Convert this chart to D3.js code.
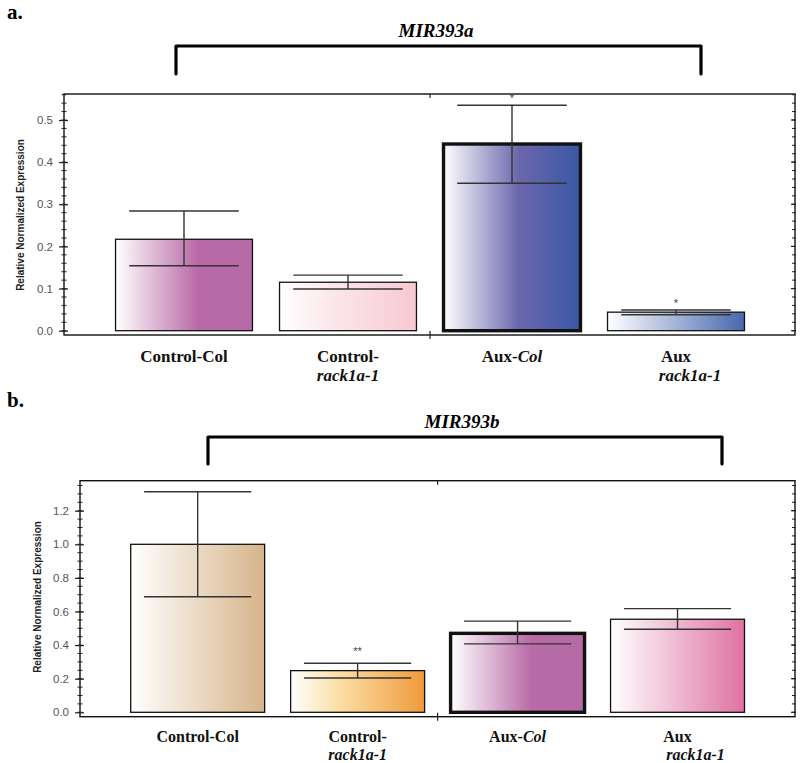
<!DOCTYPE html>
<html>
<head>
<meta charset="utf-8">
<script src="https://cdn.jsdelivr.net/npm/d3@7"></script>
<style>
  html, body { margin: 0; padding: 0; background: #fff; }
  svg { display: block; }
</style>
</head>
<body>
<svg id="chart" width="800" height="763"></svg>
<script>
// ---------------- data ----------------
const categories = ["Control-Col", "Control-rack1a-1", "Aux-Col", "Aux rack1a-1"];

const mir393aValues = [0.217, 0.115, 0.443, 0.044];
const mir393aUpper  = [0.284, 0.132, 0.535, 0.049];
const mir393aLower  = [0.154, 0.099, 0.350, 0.038];
const mir393aStars  = ["", "", "*", "*"];
const mir393aTicks  = [0.0, 0.1, 0.2, 0.3, 0.4, 0.5];
const mir393aTickLabels = ["0.0", "0.1", "0.2", "0.3", "0.4", "0.5"];

const mir393bValues = [1.0, 0.248, 0.470, 0.554];
const mir393bUpper  = [1.313, 0.292, 0.543, 0.617];
const mir393bLower  = [0.688, 0.204, 0.407, 0.494];
const mir393bStars  = ["", "**", "", ""];
const mir393bTicks  = [0.0, 0.2, 0.4, 0.6, 0.8, 1.0, 1.2];
const mir393bTickLabels = ["0.0", "0.2", "0.4", "0.6", "0.8", "1.0", "1.2"];

// label lines per category: [line1 parts, line2 parts]; part = [text, italic]
const categoryLabels = [
  [[["Control-Col", false]]],
  [[["Control-", false]], [["rack1a-1", true]]],
  [[["Aux-", false], ["Col", true]]],
  [[["Aux", false]], [["rack1a-1", true]]]
];

// gradient colours (white -> colour) per bar, stops as [offset, colour]
const mir393aColors = [
  [[0, "#ffffff"], [0.6, "#b96aa6"], [1, "#b66aa6"]],
  [[0, "#ffffff"], [0.45, "#fbe3e8"], [1, "#f7c8d2"]],
  [[0, "#ffffff"], [0.55, "#6a67ac"], [1, "#3a57a5"]],
  [[0, "#ffffff"], [1, "#4668ae"]]
];
const mir393bColors = [
  [[0, "#ffffff"], [1, "#d6b48a"]],
  [[0, "#ffffff"], [0.35, "#fbe0a8"], [1, "#ef9a3a"]],
  [[0, "#ffffff"], [0.6, "#b86ba7"], [1, "#b56aa6"]],
  [[0, "#ffffff"], [1, "#de72a2"]]
];
const mir393aThick = [false, false, true, false];
const mir393bThick = [false, false, true, false];

// ---------------- drawing ----------------
const svg = d3.select("#chart");
const defs = svg.append("defs");
const serif = "'Liberation Serif', 'Times New Roman', serif";
const sans = "'Liberation Sans', Arial, sans-serif";

function drawPanel(p) {
  const g = svg.append("g");

  const x = d3.scaleBand().domain(categories)
    .range(p.bandRange).paddingInner(p.padIn).paddingOuter(p.padIn / 2);
  const y = d3.scaleLinear().domain([0, p.ticks[p.ticks.length - 1]]).range(p.yRange);

  // panel letter
  g.append("text").attr("x", 7).attr("y", p.letterY)
    .attr("font-family", serif).attr("font-weight", "bold").attr("font-size", 21)
    .text(p.letter);

  // bracket
  const b = p.bracket;
  g.append("path")
    .attr("d", `M${b.x0},${b.yb} L${b.x0},${b.yt} L${b.x1},${b.yt} L${b.x1},${b.yb}`)
    .attr("fill", "none").attr("stroke", "#000").attr("stroke-width", 3.2)
    .attr("stroke-linecap", "round").attr("stroke-linejoin", "round");
  g.append("text").attr("x", p.titleX).attr("y", p.titleY)
    .attr("text-anchor", "middle").attr("font-family", serif)
    .attr("font-weight", "bold").attr("font-style", "italic").attr("font-size", 19)
    .text(p.title);

  // frame
  const f = p.frame;
  g.append("rect").attr("x", f.x0).attr("y", f.y0)
    .attr("width", f.x1 - f.x0).attr("height", f.y1 - f.y0)
    .attr("fill", "none").attr("stroke", "#111").attr("stroke-width", 1.4);

  // y axis (left) major ticks + labels
  const yAxis = d3.axisLeft(y).tickValues(p.ticks)
    .tickFormat((d, i) => p.tickLabels[i]).tickSize(5).tickPadding(6);
  const ya = g.append("g").attr("transform", `translate(${f.x0},0)`).call(yAxis);
  ya.select(".domain").remove();
  ya.selectAll(".tick line").attr("x2", -5).attr("x1", 4).attr("stroke", "#222").attr("stroke-width", 1.2);
  ya.selectAll(".tick text").attr("font-family", sans).attr("font-size", 11.5).attr("fill", "#555");

  // minor ticks left and right
  const yTop = y.invert(f.y0);
  const minor = d3.range(0, yTop + 1e-9, p.minorStep).map(v => +v.toFixed(4));
  g.selectAll(".minorL").data(minor).join("line")
    .attr("x1", f.x0 - 2.5).attr("x2", f.x0 + 2.5)
    .attr("y1", d => y(d)).attr("y2", d => y(d))
    .attr("stroke", "#222").attr("stroke-width", 1);
  g.selectAll(".minorR").data(minor).join("line")
    .attr("x1", f.x1 - 3).attr("x2", f.x1 + 1)
    .attr("y1", d => y(d)).attr("y2", d => y(d))
    .attr("stroke", "#222").attr("stroke-width", 1);
  g.selectAll(".majorR").data(p.ticks).join("line")
    .attr("x1", f.x1 - 4).attr("x2", f.x1 + 1)
    .attr("y1", d => y(d)).attr("y2", d => y(d))
    .attr("stroke", "#222").attr("stroke-width", 1.2);

  // middle x ticks
  const mid = (x(categories[1]) + x.bandwidth() / 2 + x(categories[2]) + x.bandwidth() / 2) / 2;
  g.append("line").attr("x1", mid).attr("x2", mid).attr("y1", f.y0).attr("y2", f.y0 + 4)
    .attr("stroke", "#222").attr("stroke-width", 1.2);
  g.append("line").attr("x1", mid).attr("x2", mid).attr("y1", f.y1 - 4).attr("y2", f.y1 + 4)
    .attr("stroke", "#222").attr("stroke-width", 1.2);

  // y label
  g.append("text")
    .attr("transform", `translate(${p.yLabelX},${p.yLabelY}) rotate(-90)`)
    .attr("text-anchor", "middle").attr("dominant-baseline", "central")
    .attr("font-family", sans).attr("font-weight", "bold").attr("font-size", 10)
    .attr("fill", "#222")
    .text("Relative Normalized Expression");

  // gradients
  p.colors.forEach((stops, i) => {
    const lg = defs.append("linearGradient").attr("id", `${p.id}-grad${i}`)
      .attr("x1", "0%").attr("x2", "100%").attr("y1", "0%").attr("y2", "0%");
    stops.forEach(s => lg.append("stop").attr("offset", s[0]).attr("stop-color", s[1]));
  });

  // bars
  const data = categories.map((c, i) => ({
    c, i, v: p.values[i], up: p.upper[i], lo: p.lower[i], star: p.stars[i], thick: p.thick[i]
  }));
  g.selectAll(".bar").data(data).join("rect")
    .attr("x", d => x(d.c)).attr("width", x.bandwidth())
    .attr("y", d => y(d.v)).attr("height", d => y(0) - y(d.v))
    .attr("fill", d => `url(#${p.id}-grad${d.i})`)
    .attr("stroke", "#111").attr("stroke-width", d => d.thick ? 3.4 : 1.3);

  // error bars
  const capW = x.bandwidth() * 0.8;
  const eb = g.selectAll(".err").data(data).join("g")
    .attr("transform", d => `translate(${x(d.c) + x.bandwidth() / 2},0)`);
  eb.append("line").attr("x1", 0).attr("x2", 0)
    .attr("y1", d => y(d.lo)).attr("y2", d => y(d.up))
    .attr("stroke", "#333").attr("stroke-width", 1.4);
  eb.append("line").attr("x1", -capW / 2).attr("x2", capW / 2)
    .attr("y1", d => y(d.up)).attr("y2", d => y(d.up))
    .attr("stroke", "#333").attr("stroke-width", 1.4);
  eb.append("line").attr("x1", -capW / 2).attr("x2", capW / 2)
    .attr("y1", d => y(d.lo)).attr("y2", d => y(d.lo))
    .attr("stroke", "#333").attr("stroke-width", 1.4);
  eb.append("text").attr("x", 0).attr("y", d => y(d.up) - p.starOffset)
    .attr("text-anchor", "middle").attr("font-family", sans).attr("font-size", 11)
    .attr("fill", "#444")
    .text(d => d.star);

  // category labels
  data.forEach(d => {
    const lines = categoryLabels[d.i];
    const cx = x(d.c) + x.bandwidth() / 2;
    lines.forEach((parts, li) => {
      const shift = (li === 1 && d.i === 3) ? p.auxShift : 0;
      const t = g.append("text")
        .attr("x", cx + shift).attr("y", p.labelY + li * p.lineH)
        .attr("text-anchor", "middle").attr("font-family", serif)
        .attr("font-weight", "bold").attr("font-size", p.labelSize).attr("fill", "#111");
      parts.forEach(pt => t.append("tspan")
        .attr("font-style", pt[1] ? "italic" : "normal").text(pt[0]));
    });
  });
}

drawPanel({
  id: "a", letter: "a.", letterY: 19,
  title: "MIR393a", titleX: 436, titleY: 37,
  bracket: { x0: 176, x1: 701, yt: 46, yb: 74 },
  frame: { x0: 64, x1: 795, y0: 94, y1: 335 },
  bandRange: [102, 758], padIn: 0.165,
  yRange: [330.7, 120], ticks: mir393aTicks, tickLabels: mir393aTickLabels, minorStep: 0.02,
  yLabelX: 20, yLabelY: 215,
  values: mir393aValues, upper: mir393aUpper, lower: mir393aLower,
  stars: mir393aStars, colors: mir393aColors, thick: mir393aThick, starOffset: 3,
  labelY: 362, lineH: 19, auxShift: 14, labelSize: 17
});

drawPanel({
  id: "b", letter: "b.", letterY: 407,
  title: "MIR393b", titleX: 462, titleY: 428,
  bracket: { x0: 208, x1: 722, yt: 437, yb: 464 },
  frame: { x0: 80, x1: 795, y0: 480.7, y1: 716.7 },
  bandRange: [117.7, 757.5], padIn: 0.1625,
  yRange: [712.3, 510.7], ticks: mir393bTicks, tickLabels: mir393bTickLabels, minorStep: 0.05,
  yLabelX: 37, yLabelY: 597,
  values: mir393bValues, upper: mir393bUpper, lower: mir393bLower,
  stars: mir393bStars, colors: mir393bColors, thick: mir393bThick, starOffset: 8,
  labelY: 742, lineH: 18, auxShift: 18, labelSize: 16
});
</script>
</body>
</html>
